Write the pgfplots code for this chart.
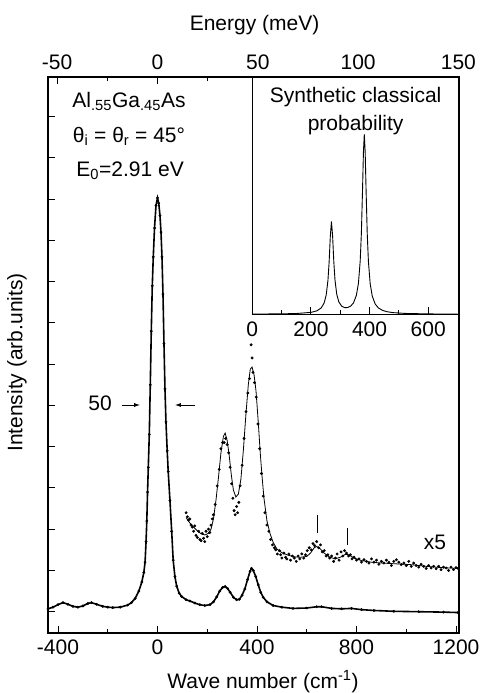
\documentclass[border=0pt]{standalone}
\usepackage{fontspec}
\setmainfont{Liberation Sans}
\usepackage{pgfplots}
\pgfplotsset{compat=1.18}
\usepackage{pgfplotstable}
\usetikzlibrary{arrows.meta}

% lower spectrum (fit line and data)
\pgfplotstableread{
x y
-440 0.07
-420 0.11
-400 0.17
-380 0.22
-360 0.18
-340 0.13
-320 0.11
-300 0.14
-280 0.20
-265 0.22
-245 0.18
-220 0.13
-200 0.11
-180 0.10
-150 0.11
-120 0.16
-105 0.22
-90 0.32
-75 0.50
-63 0.72
-55 0.95
-50 1.20
-46 1.70
-43 2.20
-40 2.90
-37 3.50
-33 4.30
-29 5.50
-25 6.80
-21 7.90
-17 8.60
-12 9.30
-6 9.85
0 10.03
5 9.90
10 9.60
14 9.20
18 8.60
22 7.70
26 6.50
30 5.40
34 4.60
39 3.90
43 3.40
50 2.70
57 1.95
63 1.25
70 0.85
77 0.62
87 0.45
97 0.37
115 0.29
130 0.26
150 0.21
170 0.17
190 0.15
211 0.17
225 0.24
238 0.36
250 0.50
262 0.59
272 0.61
282 0.56
292 0.47
305 0.35
318 0.29
329 0.30
340 0.40
351 0.55
362 0.78
372 0.98
378 1.05
385 1.00
395 0.85
405 0.65
415 0.47
425 0.35
440 0.24
465 0.15
500 0.11
545 0.08
600 0.09
640 0.12
660 0.12
700 0.08
740 0.07
780 0.08
820 0.05
870 0.03
950 0.01
1050 0.00
1150 -0.01
1208 -0.02
}\lowfit

% x5 spectrum, fit line
\pgfplotstableread{
x y
115 2.28
130 2.15
145 2.05
160 1.96
175 1.89
190 1.86
205 1.90
215 2.00
225 2.25
235 2.70
245 3.25
255 3.85
265 4.25
272 4.33
280 4.15
288 3.80
297 3.30
305 2.95
315 2.78
325 2.85
335 3.20
345 3.90
355 4.75
365 5.50
373 5.88
380 5.93
388 5.75
396 5.35
405 4.60
413 3.85
420 3.30
428 2.75
440 2.20
452 1.90
465 1.68
480 1.52
500 1.43
525 1.37
550 1.33
575 1.32
600 1.34
615 1.42
630 1.55
640 1.58
655 1.52
670 1.42
690 1.33
713 1.28
735 1.32
755 1.39
770 1.38
790 1.30
820 1.24
860 1.20
900 1.18
960 1.16
1020 1.14
1080 1.10
1140 1.07
1208 1.05
}\highfit

% x5 spectrum, data points
\pgfplotstableread{
x y
115 2.40
120 2.30
125 2.22
130 2.25
135 2.10
140 2.05
145 1.95
150 2.08
155 1.85
160 1.80
165 1.95
170 1.75
175 1.72
180 1.90
185 1.78
190 1.70
195 1.95
200 1.82
205 2.00
210 1.92
215 2.10
220 2.25
225 2.35
232 2.60
240 3.05
248 3.45
255 3.95
262 4.10
268 4.10
274 4.20
280 4.05
286 3.85
292 3.50
298 3.10
303 2.75
308 2.45
312 2.35
318 2.55
322 2.40
327 2.65
332 3.05
340 3.55
348 4.20
356 4.85
363 5.30
370 5.65
376 6.47
380 6.15
384 5.80
390 5.55
397 5.20
404 4.55
411 3.95
418 3.35
425 2.80
432 2.40
440 2.10
448 1.95
455 1.75
462 1.62
470 1.55
475 1.50
482 1.40
490 1.48
495 1.38
500 1.30
508 1.42
515 1.32
520 1.28
528 1.40
535 1.25
542 1.35
550 1.30
558 1.22
565 1.35
572 1.28
580 1.40
588 1.30
595 1.38
602 1.48
610 1.55
618 1.50
625 1.65
632 1.60
640 1.70
648 1.55
655 1.62
662 1.45
670 1.48
678 1.35
685 1.38
692 1.30
700 1.35
708 1.22
715 1.30
722 1.40
730 1.25
738 1.45
745 1.35
752 1.48
760 1.42
768 1.35
775 1.38
782 1.28
790 1.32
800 1.25
810 1.28
820 1.20
830 1.26
840 1.22
850 1.18
860 1.28
870 1.20
880 1.25
890 1.15
900 1.22
910 1.18
920 1.25
930 1.20
940 1.12
950 1.22
960 1.26
970 1.20
980 1.14
990 1.18
1000 1.12
1010 1.22
1020 1.10
1030 1.18
1040 1.12
1050 1.08
1060 1.15
1070 1.10
1080 1.05
1090 1.12
1100 1.06
1110 1.10
1120 1.04
1130 1.10
1140 1.02
1150 1.08
1160 1.06
1170 1.00
1180 1.08
1190 1.02
1200 1.07
1208 1.05
}\highdata

% inset: synthetic classical probability
\pgfplotstableread{
x y
0 0.0009
100 0.0019
150 0.0033
200 0.0081
220 0.0144
235 0.0268
245 0.0475
252 0.0808
258 0.143
262 0.2198
266 0.3268
270 0.3909
274 0.3275
278 0.2212
282 0.1451
288 0.0841
295 0.0523
305 0.0342
315 0.0282
325 0.0285
335 0.034
345 0.0477
355 0.0799
362 0.131
368 0.2243
372 0.3413
376 0.5263
379 0.683
382 0.7585
385 0.6828
388 0.5257
392 0.3404
396 0.223
402 0.1291
409 0.0772
419 0.0436
430 0.0269
445 0.0161
460 0.0108
480 0.007
520 0.0037
600 0.0016
700 0.0008
}\inset

\pgfplotsset{
  every axis/.append style={
    scale only axis,
    axis line style={line width=1.2pt},
    tick style={line width=0.9pt, black},
    tick align=inside,
    major tick length=7pt,
    minor tick length=4pt,
  },
}

\begin{document}
\fontsize{21}{25}\selectfont
\begin{tikzpicture}
\useasboundingbox (-48pt,-60pt) rectangle (434pt,633pt);

% top energy axis
\begin{axis}[
  at={(0pt,0pt)}, anchor=south west,
  width=411pt, height=556pt,
  xmin=-54.57, xmax=150.3,
  ymin=0, ymax=1,
  axis x line*=top,
  axis y line=none,
  xtick={-50,0,50,100,150},
  xticklabels={-50,0,50,100,150},
  minor xtick={-25,25,75,125},
  xlabel={Energy (meV)},
  xlabel style={at={(axis description cs:0.5025,1.094)}, anchor=center},
]
\end{axis}

% main axis
\begin{axis}[
  at={(0pt,0pt)}, anchor=south west,
  width=411pt, height=556pt,
  xmin=-440.2, xmax=1212,
  ymin=-0.516, ymax=12.96,
  tick pos=left,
  xtick={-400,0,400,800,1200},
  xticklabels={-400,0,400,800,1200},
  minor xtick={-200,200,600,1000},
  ytick={0,1,...,12},
  yticklabels={},
  xlabel={Wave number (cm\textsuperscript{-1})},
  xlabel style={at={(axis description cs:0.523,-0.087)}, anchor=center},
  ylabel={Intensity (arb.units)},
  ylabel style={at={(axis description cs:-0.0754,0.4865)}, anchor=center, rotate=0},
  clip=false,
]
\addplot[black, line width=1.6pt] table[x=x, y=y] {\lowfit};
\addplot[black, only marks, mark=*, mark size=1.2pt] table[x=x, y=y] {\lowfit};
\addplot[black, line width=0.8pt] table[x=x, y=y] {\highfit};
\addplot[black, only marks, mark=*, mark size=1.25pt] table[x=x, y=y] {\highdata};

\node at (-114.6,12.36) {Al\textsubscript{.55}Ga\textsubscript{.45}As};
\node at (-114.6,11.52) {θ\textsubscript{i} = θ\textsubscript{r} = 45°};
\node at (-110,10.69) {E\textsubscript{0}=2.91 eV};

\node at (-231,5.06) {50};
\draw[line width=0.8pt, -{Latex[length=6pt,width=4pt]}] (-144,5.01) -- (-70,5.01);
\draw[line width=0.8pt, -{Latex[length=6pt,width=4pt]}] (151,5.01) -- (70,5.01);

\draw[line width=0.8pt] (642,2.35) -- (642,1.91);
\draw[line width=0.8pt] (763,2.03) -- (763,1.61);
\node at (1115,1.68) {x5};
\end{axis}

% inset
\begin{axis}[
  at={(204.3pt,318.7pt)}, anchor=south west,
  width=206.7pt, height=237.3pt,
  xmin=0, xmax=705,
  ymin=0, ymax=1,
  tick pos=left,
  xtick={0,200,400,600},
  xticklabels={0,200,400,600},
  minor xtick={100,300,500},
  ytick=\empty,
  axis background/.style={fill=white},
]
\addplot[black, line width=0.9pt] table[x=x, y=y] {\inset};
\node at (axis description cs:0.5,0.917) {Synthetic classical};
\node at (axis description cs:0.5,0.798) {probability};
\end{axis}
\end{tikzpicture}
\end{document}
